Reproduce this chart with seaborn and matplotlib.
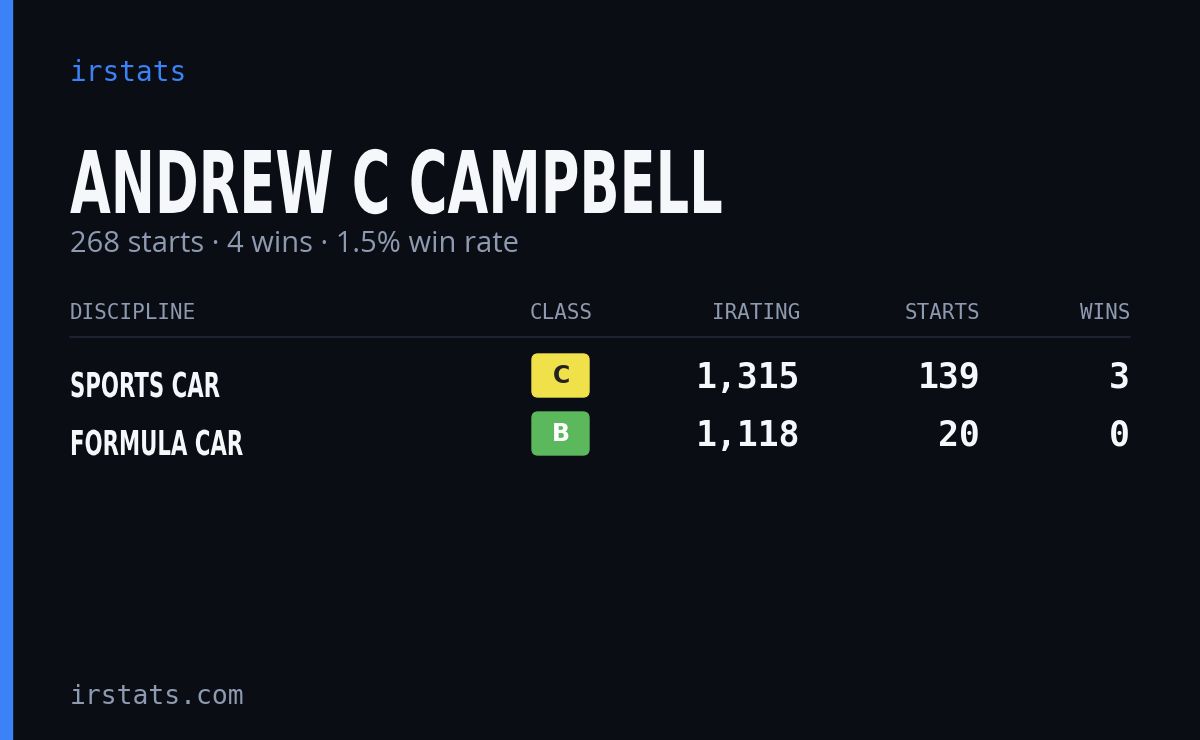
import matplotlib
matplotlib.use("Agg")
import matplotlib.pyplot as plt
import seaborn as sns
from matplotlib.patches import FancyBboxPatch, Rectangle, PathPatch
from matplotlib.textpath import TextPath
from matplotlib.font_manager import FontProperties
from matplotlib.transforms import Affine2D

disciplines = ["SPORTS CAR", "FORMULA CAR"]
classes = ["C", "B"]
iratings = [1315, 1118]
starts = [139, 20]
wins = [3, 0]
headers = ["DISCIPLINE", "CLASS", "IRATING", "STARTS", "WINS"]
driver = "ANDREW C CAMPBELL"
total_starts, total_wins = 268, 4

sns.set_theme(style="dark")
BG = "#0a0d14"
fig = plt.figure(figsize=(12, 7.4), dpi=100, facecolor=BG)
ax = fig.add_axes([0, 0, 1, 1])
ax.set_facecolor(BG)
ax.set_xlim(0, 1200); ax.set_ylim(740, 0); ax.axis("off")

bold = FontProperties(family="DejaVu Sans", weight="bold")

def condensed(x, baseline, s, cap_h, sx, color):
    tp = TextPath((0, 0), s, size=cap_h / 0.729, prop=bold)
    tr = Affine2D().scale(sx, -1).translate(x, baseline)
    ax.add_patch(PathPatch(tr.transform_path(tp), color=color, lw=0))

ax.add_patch(Rectangle((0, 0), 12, 740, color="#3b82f6"))
mono = "DejaVu Sans Mono"
ax.text(70, 73, "irstats", color="#3b82f6", fontsize=20, family=mono, va="center")
condensed(70, 213, driver, 63, 0.61, "#f5f7fb")
ax.text(70, 245, f"{total_starts} starts · {total_wins} wins · {100*total_wins/total_starts:.1f}% win rate",
        color="#8e9ab0", fontsize=21, family="Open Sans", va="center")

hx = [70, 593, 800, 980, 1130]
ha = ["left", "right", "right", "right", "right"]
for h, x, a in zip(headers, hx, ha):
    ax.text(x, 313, h, color="#8e9ab0", fontsize=15, family=mono, ha=a, va="center")
ax.plot([70, 1130], [337, 337], color="#1d2330", lw=1.5)

class_colors = {"A": "#3b82f6", "B": "#5cb85c", "C": "#f0e04a", "D": "#f08a3c", "R": "#e04848"}
class_text = {"B": "white", "C": "#222222"}
for i, (d, c, ir, s, w) in enumerate(zip(disciplines, classes, iratings, starts, wins)):
    y = 382 + 58 * i
    condensed(70, y + 15, d, 25, 0.62, "#f5f7fb")
    ax.add_patch(FancyBboxPatch((532, y - 28), 57, 43, boxstyle="round,pad=0,rounding_size=6",
                                color=class_colors[c]))
    ax.text(561, y - 6, c, color=class_text.get(c, "white"), fontsize=17, fontweight="bold",
            ha="center", va="center")
    for val, x in zip([f"{ir:,}", str(s), str(w)], hx[2:]):
        ax.text(x, y - 4, val, color="#f5f7fb", fontsize=25, family=mono, fontweight="bold",
                ha="right", va="center")

ax.text(70, 697, "irstats.com", color="#8e9ab0", fontsize=19, family=mono, va="center")
fig.savefig("out.png", dpi=100, facecolor=BG)
